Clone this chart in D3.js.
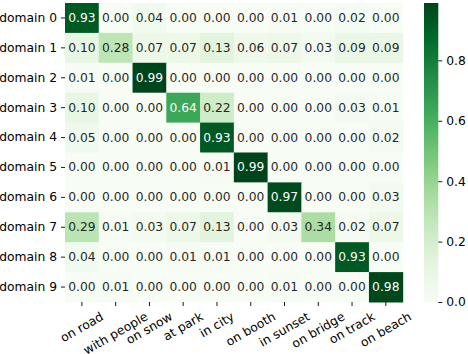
<!DOCTYPE html>
<html><head><meta charset="utf-8">
<script src="https://cdn.jsdelivr.net/npm/d3@7"></script>
<style>body{margin:0;background:#fff}text{font-family:"DejaVu Sans",sans-serif}</style>
</head><body>
<svg id="c" width="468" height="354"></svg>
<script>
const rows = ["domain 0","domain 1","domain 2","domain 3","domain 4","domain 5","domain 6","domain 7","domain 8","domain 9"];
const cols = ["on road","with people","on snow","at park","in city","on booth","in sunset","on bridge","on track","on beach"];
const values = [
 [0.93,0.00,0.04,0.00,0.00,0.00,0.01,0.00,0.02,0.00],
 [0.10,0.28,0.07,0.07,0.13,0.06,0.07,0.03,0.09,0.09],
 [0.01,0.00,0.99,0.00,0.00,0.00,0.00,0.00,0.00,0.00],
 [0.10,0.00,0.00,0.64,0.22,0.00,0.00,0.00,0.03,0.01],
 [0.05,0.00,0.00,0.00,0.93,0.00,0.00,0.00,0.00,0.02],
 [0.00,0.00,0.00,0.00,0.01,0.99,0.00,0.00,0.00,0.00],
 [0.00,0.00,0.00,0.00,0.00,0.00,0.97,0.00,0.00,0.03],
 [0.29,0.01,0.03,0.07,0.13,0.00,0.03,0.34,0.02,0.07],
 [0.04,0.00,0.00,0.01,0.01,0.00,0.00,0.00,0.93,0.00],
 [0.00,0.01,0.00,0.00,0.00,0.00,0.01,0.00,0.00,0.98]
];
const cbTicks = [0.0,0.2,0.4,0.6,0.8];
const greens = ["#f7fcf5","#e5f5e0","#c7e9c0","#a1d99b","#74c476","#41ab5d","#238b45","#006d2c","#00441b"];

const FS = 12.3, TL = 4, PAD = 4;
const L = 65, R = 402.7, T = 3, B = 302;
const vmin = 0, vmax = d3.max(values.flat());
const svg = d3.select("#c");

const x = d3.scaleBand().domain(cols).range([L, R]);
const y = d3.scaleBand().domain(rows).range([T, B]);
const color = d3.scaleLinear()
  .domain(greens.map((_, i) => vmin + (vmax - vmin) * i / (greens.length - 1)))
  .range(greens).interpolate(d3.interpolateRgb).clamp(true);

function lum(c) {
  const r = d3.rgb(c);
  const f = v => { v /= 255; return v <= 0.03928 ? v / 12.92 : Math.pow((v + 0.055) / 1.055, 2.4); };
  return 0.2126 * f(r.r) + 0.7152 * f(r.g) + 0.0722 * f(r.b);
}

const cells = [];
values.forEach((row, i) => row.forEach((v, j) => cells.push({r: rows[i], c: cols[j], v})));

svg.append("g").selectAll("rect").data(cells).join("rect")
  .attr("x", d => x(d.c)).attr("y", d => y(d.r))
  .attr("width", x.bandwidth() + 0.5).attr("height", y.bandwidth() + 0.5)
  .attr("fill", d => color(d.v));

svg.append("g").selectAll("text").data(cells).join("text")
  .attr("x", d => x(d.c) + x.bandwidth() / 2)
  .attr("y", d => y(d.r) + y.bandwidth() / 2)
  .attr("text-anchor", "middle").attr("dominant-baseline", "central")
  .attr("font-size", FS)
  .attr("fill", d => lum(color(d.v)) > 0.408 ? "#262626" : "#ffffff")
  .text(d => d.v.toFixed(2));

// y axis
const yAxis = d3.axisLeft(y).tickSize(TL).tickPadding(PAD);
const gy = svg.append("g").attr("transform", `translate(${L},0)`).call(yAxis);
gy.select(".domain").remove();
gy.selectAll("text").attr("font-size", FS).attr("font-family", "DejaVu Sans").attr("fill", "#000");
gy.selectAll("line").attr("stroke", "#000").attr("stroke-width", 0.9);

// x axis
const xAxis = d3.axisBottom(x).tickSize(TL).tickPadding(PAD);
const gx = svg.append("g").attr("transform", `translate(0,${B})`).call(xAxis);
gx.select(".domain").remove();
gx.selectAll("line").attr("stroke", "#000").attr("stroke-width", 0.9);
gx.selectAll("text").attr("font-size", FS).attr("font-family", "DejaVu Sans").attr("fill", "#000")
  .attr("dy", null).attr("y", null)
  .each(function() {
    const w = this.getComputedTextLength();
    const h = FS * 1.05;
    const a = Math.PI / 6;
    const bh = w * Math.sin(a) + h * Math.cos(a);
    d3.select(this).attr("text-anchor", "middle").attr("dominant-baseline", "central")
      .attr("transform", `translate(0,${TL + PAD + bh / 2}) rotate(-30)`);
  });

// colorbar
const cbL = 424, cbW = 14.3;
const cy = d3.scaleLinear().domain([vmin, vmax]).range([B, T]);
const grad = svg.append("defs").append("linearGradient").attr("id", "g")
  .attr("x1", 0).attr("y1", 1).attr("x2", 0).attr("y2", 0);
d3.range(0, 1.0001, 0.02).forEach(t => grad.append("stop")
  .attr("offset", t).attr("stop-color", color(vmin + t * (vmax - vmin))));
svg.append("rect").attr("x", cbL).attr("y", T).attr("width", cbW).attr("height", B - T).attr("fill", "url(#g)");
const cAxis = d3.axisRight(cy).tickValues(cbTicks).tickFormat(d3.format(".1f")).tickSize(TL).tickPadding(PAD);
const gc = svg.append("g").attr("transform", `translate(${cbL + cbW},0)`).call(cAxis);
gc.select(".domain").remove();
gc.selectAll("line").attr("stroke", "#000").attr("stroke-width", 0.9);
gc.selectAll("text").attr("font-size", FS).attr("font-family", "DejaVu Sans").attr("fill", "#000");
</script>
</body></html>
